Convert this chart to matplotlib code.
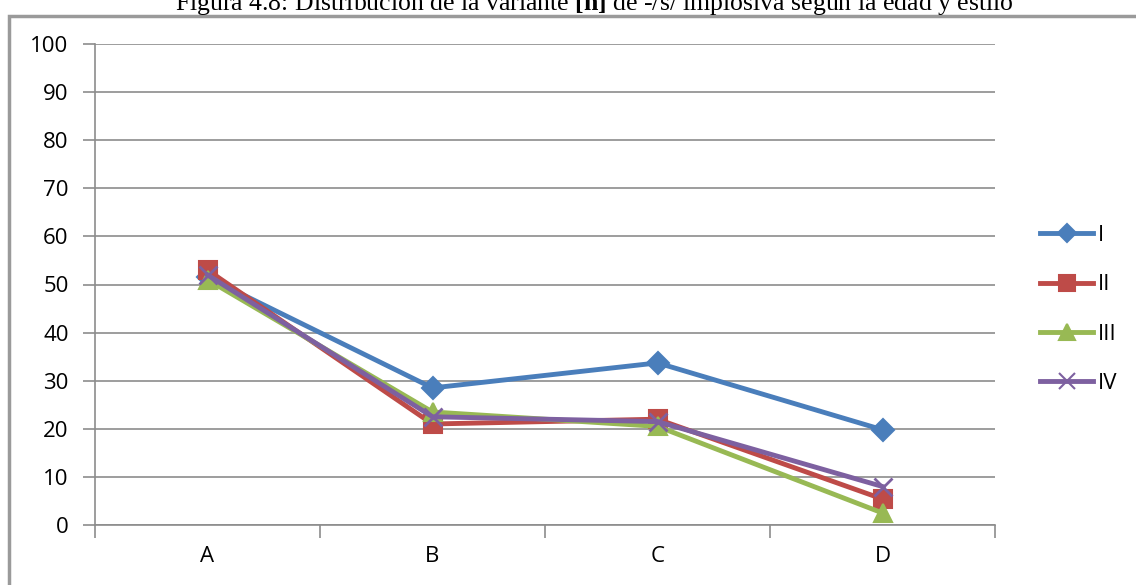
import matplotlib
matplotlib.use("Agg")
import matplotlib.pyplot as plt
from matplotlib.lines import Line2D
from matplotlib.patches import Rectangle

categories = ["A", "B", "C", "D"]
series_names = ["I", "II", "III", "IV"]
values_I = [51.5, 28.5, 33.7, 19.8]
values_II = [53.0, 21.0, 22.0, 5.4]
values_III = [51.0, 23.5, 20.5, 2.5]
values_IV = [52.0, 22.5, 21.5, 8.0]
yticks = [0, 10, 20, 30, 40, 50, 60, 70, 80, 90, 100]

colors = ["#4A7EBB", "#BE4B48", "#98B954", "#7D60A0"]
markers = ["D", "s", "^", "x"]
msizes = [11, 13, 13, 13]

plt.rcParams["mathtext.fontset"] = "custom"
plt.rcParams["mathtext.rm"] = "Liberation Serif"
plt.rcParams["mathtext.bf"] = "Liberation Serif:bold"

W, H = 1136, 585
fig = plt.figure(figsize=(W / 100, H / 100), dpi=100)
fig.patch.set_facecolor("white")

# outer frame
fig.patches.append(Rectangle((9 / W, -0.05), 1.2, 1 - 16 / H + 0.05,
                             transform=fig.transFigure, fill=False,
                             edgecolor="#9a9a9a", linewidth=2.5))

fig.text(594 / W, 1 - 10 / H,
         "Figura 4.8: Distribución de la variante $\\mathbf{[h]}$ de -/s/ implosiva según la edad y estilo",
         ha="center", va="baseline", fontsize=18.5, family="Liberation Serif")

ax = fig.add_axes([95 / W, 1 - 525 / H, 900 / W, 481 / H])
ax.set_xlim(0, 4)
ax.set_ylim(0, 100)

tick_font = {"family": "Open Sans", "size": 16}

x = [i + 0.5 for i in range(len(categories))]
all_vals = [values_I, values_II, values_III, values_IV]
handles = []
for vals, name, c, m, ms in zip(all_vals, series_names, colors, markers, msizes):
    ax.plot(x, vals, color=c, linewidth=3.5, marker=m, markersize=ms,
            markeredgewidth=1.5 if m != "x" else 2, markeredgecolor=c,
            markerfacecolor=c, zorder=3, clip_on=False)
    handles.append(Line2D([], [], color=c, linewidth=3.5, marker=m,
                          markersize=ms * 0.85, markeredgecolor=c, markerfacecolor=c,
                          markeredgewidth=1.5))

ax.set_yticks(yticks)
ax.set_yticklabels([str(v) for v in yticks], **tick_font)
ax.yaxis.grid(True, color="#8c8c8c", linewidth=1.2)
ax.set_axisbelow(True)
ax.tick_params(axis="y", direction="out", length=9, width=1.2, color="#8c8c8c", pad=10)

ax.set_xticks([0, 1, 2, 3, 4])
ax.set_xticklabels([])
ax.set_xticks(x, minor=True)
ax.set_xticklabels(categories, minor=True, **tick_font)
ax.tick_params(axis="x", which="major", direction="out", length=9, width=1.2, color="#8c8c8c")
ax.tick_params(axis="x", which="minor", length=0, pad=15)

for s in ["top", "right"]:
    ax.spines[s].set_visible(False)
for s in ["left", "bottom"]:
    ax.spines[s].set_color("#8c8c8c")
    ax.spines[s].set_linewidth(1.2)

leg = fig.legend(handles, series_names, loc="upper left",
                 bbox_to_anchor=(1031 / W, 1 - 216 / H), frameon=False,
                 prop={"family": "Open Sans", "size": 16},
                 handlelength=2.4, handletextpad=0.2, labelspacing=1.28,
                 borderaxespad=0)

fig.savefig("out.png", dpi=100, facecolor="white")
